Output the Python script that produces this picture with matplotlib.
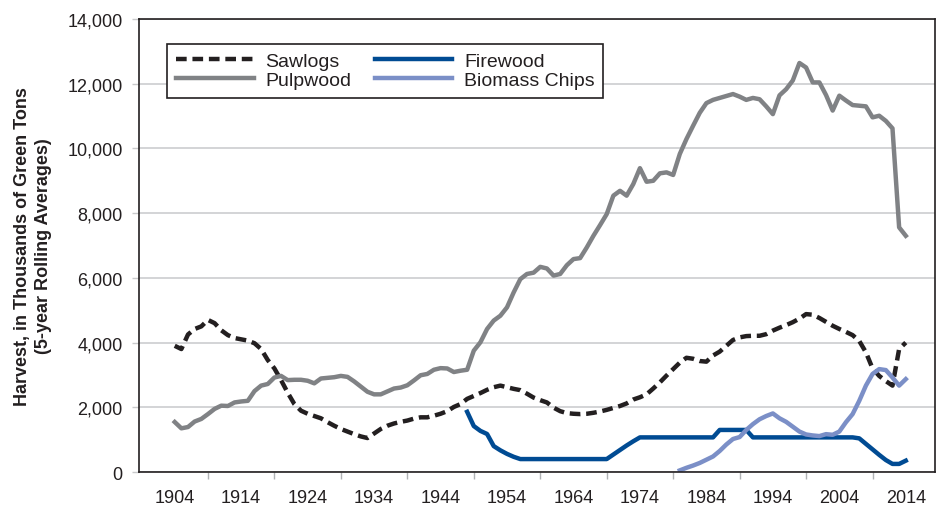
import matplotlib.pyplot as plt
from matplotlib.ticker import FuncFormatter

plt.rcParams['font.family'] = ['Liberation Sans', 'DejaVu Sans']

# harvest, thousands of green tons (5-year rolling averages)
years = list(range(1904, 2015))

sawlogs = [
    3900, 3800, 4250, 4420, 4500, 4700, 4600, 4380, 4230, 4140,
    4100, 4060, 3980, 3800, 3460, 3200, 2840, 2450, 2100, 1895,
    1800, 1730, 1660, 1540, 1430, 1330, 1250, 1170, 1100, 1050,
    1190, 1330, 1430, 1500, 1550, 1590, 1650, 1690, 1690, 1740,
    1800, 1880, 2010, 2100, 2260, 2350, 2440, 2540, 2620, 2670,
    2620, 2570, 2530, 2420, 2300, 2220, 2150, 1990, 1880, 1820,
    1800, 1790, 1800, 1830, 1870, 1920, 1980, 2040, 2120, 2240,
    2310, 2400, 2580, 2770, 2980, 3180, 3380, 3530, 3500, 3430,
    3410, 3600, 3720, 3900, 4080, 4160, 4200, 4210, 4210, 4260,
    4370, 4460, 4540, 4630, 4740, 4880, 4860, 4760, 4640, 4520,
    4420, 4330, 4230, 4050, 3700, 3200, 2970, 2810, 2670, 3800,
    4000,
]

pulpwood = [
    1545, 1350, 1390, 1560, 1640, 1790, 1950, 2050, 2040, 2150,
    2180, 2200, 2500, 2670, 2720, 2920, 2970, 2840, 2850, 2850,
    2820, 2740, 2890, 2910, 2930, 2970, 2940, 2800, 2640, 2480,
    2400, 2400, 2490, 2580, 2610, 2680, 2830, 2990, 3030, 3160,
    3210, 3200, 3090, 3130, 3160, 3750, 4010, 4420, 4680, 4830,
    5090, 5550, 5960, 6120, 6160, 6340, 6290, 6070, 6120, 6390,
    6580, 6610, 6940, 7300, 7630, 7970, 8540, 8690, 8540, 8900,
    9390, 8970, 9000, 9230, 9260, 9180, 9830, 10290, 10700, 11100,
    11400, 11500, 11560, 11620, 11680, 11600, 11500, 11560, 11520, 11300,
    11060, 11640, 11830, 12100, 12640, 12500, 12040, 12040, 11650, 11170,
    11630, 11480, 11340, 11320, 11300, 10960, 11010, 10850, 10620, 7560,
    7300,
]

firewood_years = list(range(1948, 2015))
firewood = [
    1860, 1420, 1270, 1175, 800, 670, 560, 470, 400, 400,
    400, 400, 400, 400, 400, 400, 400, 400, 400, 400,
    400, 400, 540, 680, 820, 950, 1070, 1070, 1070, 1070,
    1070, 1070, 1070, 1070, 1070, 1070, 1070, 1070, 1300, 1300,
    1300, 1300, 1300, 1070, 1070, 1070, 1070, 1070, 1070, 1070,
    1070, 1070, 1070, 1070, 1070, 1070, 1070, 1070, 1070, 1040,
    870, 700, 530, 370, 250, 250, 350,
]

biomass_years = list(range(1980, 2015))
biomass = [
    50, 130, 200, 280, 380, 480, 650, 850, 1020, 1080,
    1300, 1480, 1630, 1730, 1810, 1660, 1550, 1400, 1250, 1160,
    1130, 1110, 1170, 1150, 1250, 1540, 1790, 2200, 2670, 3030,
    3180, 3150, 2920, 2670, 2870,
]

dark = '#231f20'

fig = plt.figure(figsize=(9.4, 5.06), dpi=100)
ax = fig.add_axes([0.1484, 0.0652, 0.8463, 0.8953])

ax.plot(years, sawlogs, color=dark, lw=3.2, ls=(0, (2.4, 1.3)), label='Sawlogs')
ax.plot(years, pulpwood, color='#808285', lw=3.2, label='Pulpwood')
ax.plot(firewood_years, firewood, color='#004b93', lw=3.2, label='Firewood')
ax.plot(biomass_years, biomass, color='#7b8fc7', lw=3.2, label='Biomass Chips')

ax.set_xlim(1898.7, 2018.4)
ax.set_ylim(0, 14000)
ax.set_yticks(range(0, 14001, 2000))
ax.yaxis.set_major_formatter(FuncFormatter(lambda v, p: f'{int(v):,}'))
ax.set_xticks(range(1904, 2015, 10))
ax.set_xticks(range(1909, 2010, 10), minor=True)

ax.grid(axis='y', color='#c8c9cb', lw=1.1)
ax.set_axisbelow(True)
for s in ax.spines.values():
    s.set_color(dark)
    s.set_linewidth(1.2)

ax.tick_params(axis='x', which='major', length=0, pad=12, labelsize=13, labelcolor=dark)
ax.tick_params(axis='x', which='minor', length=5, width=1, color='#b0b2b4')
ax.tick_params(axis='y', length=5, width=1, color='#c8c9cb', pad=7, labelsize=13, labelcolor=dark)

fig.text(33 / 940, (506 - 246.5) / 506,
         'Harvest, in Thousands of Green Tons\n(5-year Rolling Averages)',
         rotation=90, ha='center', va='center', multialignment='center',
         fontsize=13, fontweight='bold', color=dark, linespacing=1.25)

leg = ax.legend(loc='upper left', bbox_to_anchor=(0.0346, 0.945), borderaxespad=0,
                ncol=2, fontsize=14, handlelength=4.0, handletextpad=0.6,
                columnspacing=1.2, labelspacing=0.05, borderpad=0.45,
                fancybox=False, framealpha=1, edgecolor=dark)
leg.get_frame().set_linewidth(1.2)
for t in leg.get_texts():
    t.set_color(dark)

fig.savefig('out.png', dpi=100)
